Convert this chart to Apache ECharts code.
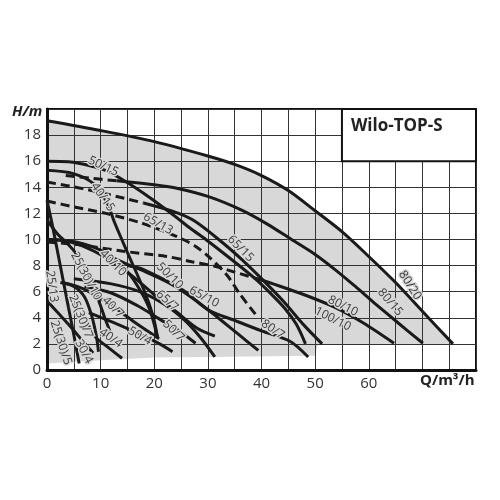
<!DOCTYPE html>
<html><head><meta charset="utf-8">
<script src="https://cdn.jsdelivr.net/npm/echarts/dist/echarts.min.js"></script>
<style>html,body{margin:0;padding:0;background:#fff}#c{width:500px;height:500px}</style>
</head><body><div id="c"></div>
<script>
// ---- data (Q in m3/h, H in m) ----
const xTickLabels = [0, 10, 20, 30, 40, 50, 60];
const yTickLabels = [0, 2, 4, 6, 8, 10, 12, 14, 16, 18];

const c80_20 = [[0,19.1],[10,18.35],[20,17.5],[30,16.4],[35,15.75],[40,14.9],[45,13.75],[50,12.2],[55,10.6],[60,8.7],[65,6.7],[70,4.5],[75.7,2.0]];
const c80_15_dash = [[3.5,14.9],[8,14.7],[13,14.5]];
const c80_15 = [[13,14.5],[20,14.2],[24,13.95],[30,13.3],[36.3,12.25],[41,11.2],[45.6,10.0],[50,8.85],[54,7.6],[57.5,6.4],[61,5.15],[65.5,3.6],[70.1,2.05]];
const c50_15 = [[0,16.0],[4,15.95],[8,15.65],[11.1,15.25],[14.8,14.4],[19.2,13.2],[23.5,11.9],[26.6,10.9],[30.1,9.85],[34,8.6],[38.8,7.0],[41.5,5.95],[44.4,4.7],[46.5,3.5],[48.2,2.0]];
const c65_15_dash = [[0,14.4],[6.7,13.9],[13,13.3],[18,12.8]];
const c65_15 = [[18,12.8],[23.9,12.1],[27.6,11.4],[33.2,9.6],[36.5,8.4],[40,7.0],[44,5.3],[48,3.4],[51.3,2.0]];
const c65_13_dash = [[0,12.95],[5,12.5],[11,12.0],[17.3,11.3],[22,10.6],[25.4,10.0],[27.6,9.5],[30.1,8.7],[33.5,7.3],[36,5.8],[39.2,4.1]];
const c80_10_dash = [[0,9.8],[6,9.6],[14.2,9.1],[22.3,8.7],[27,8.3],[31.3,7.95],[35,7.5],[40,6.9]];
const c80_10 = [[40,6.9],[47.1,5.9],[53.7,4.8],[59,3.6],[64.7,2.05]];
const c40_15 = [[0,15.3],[4.9,15.05],[8.6,14.3],[11.1,12.9],[12.6,11.3],[15,9.0],[18.1,6.1],[19.8,4.1],[20.6,2.5]];
const c40_10 = [[0,10.0],[4,9.9],[7,9.65],[10.6,9.05],[14.4,7.8],[16.8,6.5],[19.1,4.7],[20.6,2.5]];
const c50_10 = [[0,10.0],[4.1,9.85],[8.8,9.1],[15,7.5],[19.9,5.8],[24,4.5],[28,3.2],[31.3,2.6]];
const c65_10 = [[10,9.0],[15,8.1],[19,7.4],[23.5,6.5],[27.5,5.4],[31.6,4.1],[35.5,2.8],[39.4,1.5]];
const c65_7 = [[5,7.0],[12,6.6],[17.3,6.0],[22,5.0],[25.7,3.8],[28.8,2.4],[31.3,1.0]];
const c50_7 = [[7,6.4],[12,5.9],[17,4.9],[21,3.9],[25,2.9],[27.7,2.05]];
const c40_7 = [[2.9,6.7],[6.9,6.2],[11.9,5.0],[16.2,3.7],[20.9,2.4]];
const c80_7 = [[15,8.0],[18,7.7],[25.4,6.1],[30.1,4.6],[35,3.8],[40,3.0],[45.3,2.2],[48.7,1.0]];
const c40_4 = [[7.5,3.6],[9.1,2.5],[11.5,1.7],[14,0.9]];
const c50_4 = [[7.8,4.4],[12,3.7],[17,2.8],[21,2.0],[23.4,1.4]];
const c30_4 = [[0,5.3],[2,4.4],[4,3.5],[6.5,2.3],[8.6,1.3]];
const c25_7 = [[2.5,6.7],[5,6.4],[7,5.6],[8.3,4.2],[9.2,2.6],[9.6,1.4]];
const c25_10 = [[0,11.5],[2,10.4],[3.8,9.7],[5.5,8.9],[6.9,8.0],[8.2,6.9],[9.4,5.6],[10.6,4.2],[11.9,2.8]];
const c25_13 = [[0,13],[1,11.1],[2,9.0],[3,6.9],[4,4.8],[5,2.7],[6,0.5]];

const envelopeBottom = [[0,0.5],[10,0.75],[20,0.95],[30,1.0],[50,1.1],[50.5,2.0],[80,2.0]];

const solidCurves = [c80_20,c80_15,c50_15,c65_15,c80_10,c40_15,c40_10,c50_10,c65_10,c65_7,c50_7,c40_7,c80_7,c40_4,c50_4,c30_4,c25_7,c25_10,c25_13];
const dashedCurves = [c80_15_dash,c65_15_dash,c65_13_dash,c80_10_dash];

// curve labels: [text, Q, H, angle in degrees]
const curveLabels = [
 ['50/15',10.5,15.6,-25],['40/15',10.4,13.25,-55],['65/13',20.7,11.2,-30],['65/15',36.1,9.3,-45],
 ['80/20',67.7,6.5,-57],['80/15',64,5.2,-50],['80/10',55.2,4.9,-27],['100/10',53.3,3.9,-27],
 ['80/7',42.1,3.1,-35],['65/10',29.3,5.6,-28],['50/10',22.9,7.2,-45],['65/7',22.4,5.3,-42],
 ['50/7',23.6,3.0,-45],['40/10',12.3,8.2,-45],['40/7',12.3,4.8,-45],['40/4',11.9,2.45,-35],
 ['50/4',17.3,2.6,-30],['25(30)/10',7.3,7.2,-62],['25(30)/7',6.3,4.1,-68],['25/13',0.9,6.4,-82],
 ['25(30)/5',2.6,2.1,-72],['30/4',6.9,1.4,-62]
];
const title = 'Wilo-TOP-S';
const titleBox = [[55,20],[80,16]];

// ---- chart ----
const chart = echarts.init(document.getElementById('c'));
const lineColor = '#1a1a1a';
const smoothOpts = {smooth:0.3, symbol:'none', silent:true};
const series = [];
series.push(Object.assign({type:'line', data:c80_20, z:-2,
  lineStyle:{width:0}, areaStyle:{color:'#d8d8d8', opacity:1}}, smoothOpts));
series.push({type:'custom', z:-1, silent:true, data:[0],
  renderItem:(p,api)=>{
    const pts = envelopeBottom.map(d=>api.coord(d));
    pts.push(api.coord([80,0])); pts.push(api.coord([0,0]));
    return {type:'polygon', shape:{points:pts}, style:{fill:'#ffffff'}};
  }});
solidCurves.forEach(c=>series.push(Object.assign({type:'line', data:c,
  lineStyle:{color:lineColor, width:3}}, smoothOpts)));
dashedCurves.forEach(c=>series.push(Object.assign({type:'line', data:c,
  lineStyle:{color:lineColor, width:3, type:[9,5]}}, smoothOpts)));
series.push({type:'custom', z:5, silent:true, data:curveLabels.map((l,i)=>[l[1],l[2],i]),
  renderItem:(p,api)=>{
    const l = curveLabels[api.value(2)];
    const pt = api.coord([api.value(0), api.value(1)]);
    return {type:'text', x:pt[0], y:pt[1], rotation:l[3]*Math.PI/180,
      style:{text:l[0], align:'center', verticalAlign:'middle', fill:'#3a3a3a',
        font:'12px "Open Sans"', stroke:'#d8d8d8', lineWidth:3}};
  }});
series.push({type:'custom', z:6, silent:true, data:[0],
  renderItem:(p,api)=>{
    const a = api.coord(titleBox[0]), b = api.coord(titleBox[1]);
    return {type:'group', children:[
      {type:'rect', shape:{x:a[0], y:a[1], width:b[0]-a[0], height:b[1]-a[1]},
       style:{fill:'#fff', stroke:'#111', lineWidth:2}},
      {type:'text', style:{text:title, x:a[0]+9, y:a[1]+9, fill:'#222',
        font:'bold 17px "Open Sans"'}}
    ]};
  }});

chart.setOption({
  animation:false,
  grid:{left:47, right:24, top:109, bottom:130, show:true, borderColor:'#111', borderWidth:2, backgroundColor:'transparent'},
  xAxis:{type:'value', min:0, max:80, interval:5,
    axisLine:{lineStyle:{color:'#111', width:3}}, axisTick:{show:false},
    axisLabel:{color:'#333', fontSize:15, fontFamily:'Open Sans', margin:6,
      formatter:v=> xTickLabels.includes(v) ? String(v) : ''},
    splitLine:{show:true, lineStyle:{color:'#333', width:1}}},
  yAxis:{type:'value', min:0, max:20, interval:2,
    axisLine:{show:true, lineStyle:{color:'#111', width:3}}, axisTick:{show:false},
    axisLabel:{color:'#333', fontSize:15, fontFamily:'Open Sans', margin:6,
      formatter:v=> yTickLabels.includes(v) ? String(v) : ''},
    splitLine:{show:true, lineStyle:{color:'#333', width:1}}},
  graphic:[
    {type:'text', left:12, top:104, style:{text:'H/m', font:'italic bold 15px "Open Sans"', fill:'#222'}},
    {type:'text', left:420, top:373, style:{text:'Q/m³/h', font:'bold 15px "Open Sans"', fill:'#222'}}
  ],
  series: series
});
</script></body></html>
